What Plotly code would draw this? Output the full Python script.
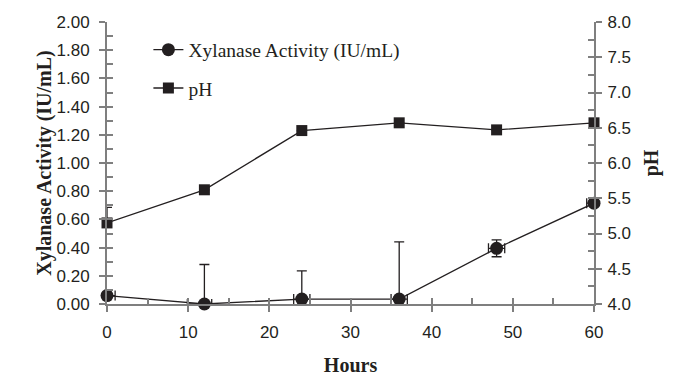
import plotly.graph_objects as go

hours = [0, 12, 24, 36, 48, 60]
xylanase = [0.06, 0.00, 0.035, 0.035, 0.395, 0.715]
xyl_err_plus = [0.0, 0.28, 0.20, 0.405, 0.06, 0.015]
xyl_err_minus = [0.0, 0.0, 0.0, 0.0, 0.06, 0.015]
xyl_xerr_plus = [1.0, 0.9, 1.0, 1.0, 1.0, 0.9]
xyl_xerr_minus = [1.0, 2.1, 1.0, 1.0, 1.0, 0.9]
ph = [5.15, 5.62, 6.46, 6.57, 6.47, 6.57]
ph_err_plus = [0.22, 0, 0, 0, 0, 0]

AX = "#7f7f7f"
INK = "#231f20"
TICKFONT = dict(family="Liberation Sans, Arial", size=17, color=INK)
TITLEFONT = dict(family="Liberation Serif, Times New Roman", size=20, color=INK)

fig = go.Figure()

fig.add_trace(go.Scatter(
    x=hours, y=xylanase, name="Xylanase Activity (IU/mL)",
    mode="lines+markers", legendgroup="a",
    line=dict(color=INK, width=1.3),
    marker=dict(symbol="circle", size=13, color=INK),
    error_y=dict(type="data", symmetric=False, array=xyl_err_plus,
                 arrayminus=xyl_err_minus, color=INK, thickness=1.3, width=5),
    error_x=dict(type="data", symmetric=False, array=xyl_xerr_plus,
                 arrayminus=xyl_xerr_minus, color=INK, thickness=1.3, width=5),
    cliponaxis=False, xaxis="x", yaxis="y"))

fig.add_trace(go.Scatter(
    x=hours, y=ph, name="pH",
    mode="lines+markers", legendgroup="b",
    line=dict(color=INK, width=1.3),
    marker=dict(symbol="square", size=11, color=INK),
    error_y=dict(type="data", symmetric=False, array=ph_err_plus,
                 arrayminus=[0] * 6, color=INK, thickness=1.3, width=5),
    cliponaxis=False, xaxis="x", yaxis="y2"))

# invisible helper traces so the inside-tick overlay axes are drawn
fig.add_trace(go.Scatter(x=[None], y=[None], xaxis="x3", yaxis="y3",
                         showlegend=False, hoverinfo="skip"))
fig.add_trace(go.Scatter(x=[None], y=[None], xaxis="x", yaxis="y4",
                         showlegend=False, hoverinfo="skip"))

common = dict(showgrid=False, zeroline=False, linecolor=AX, linewidth=2,
              tickcolor=AX, tickwidth=2, ticklen=6, automargin=False)

fig.update_layout(
    width=680, height=392,
    margin=dict(l=99, r=94, t=14, b=96, autoexpand=False),
    paper_bgcolor="white", plot_bgcolor="white",
    showlegend=True,
    legend=dict(x=0.085, y=0.97, xanchor="left", yanchor="top",
                bgcolor="rgba(0,0,0,0)", traceorder="grouped",
                tracegroupgap=10,
                font=dict(family="Liberation Serif, Times New Roman", size=19.5, color=INK)),
    xaxis=dict(range=[0, 60], dtick=10, ticks="outside", showline=True,
               tickfont=TICKFONT, anchor="y", ticklabelstandoff=6,
               title=dict(text="<b>Hours</b>", font=TITLEFONT, standoff=17),
               **common),
    xaxis3=dict(range=[0, 60], dtick=5, ticks="inside", showline=False,
                showticklabels=False, overlaying="x", anchor="y3", **common),
    yaxis=dict(range=[0, 2], dtick=0.2, tickformat=".2f", ticks="outside",
               showline=True, tickfont=TICKFONT, anchor="x", ticklabelstandoff=6,
               title=dict(text="<b>Xylanase Activity (IU/mL)</b>", font=TITLEFONT, standoff=0),
               **common),
    yaxis3=dict(range=[0, 2], dtick=0.1, ticks="inside", showline=False,
                showticklabels=False, overlaying="y", anchor="x3", **common),
    yaxis2=dict(range=[4, 8], dtick=0.5, tickformat=".1f", ticks="outside",
                side="right", overlaying="y", anchor="x", showline=True,
                tickfont=TICKFONT, ticklabelstandoff=2,
                title=dict(text="<b>pH</b>", font=TITLEFONT, standoff=14),
                **common),
    yaxis4=dict(range=[4, 8], dtick=0.25, ticks="inside", side="right",
                overlaying="y", anchor="x", showline=False,
                showticklabels=False, **common),
)

fig.write_html("out.html")
